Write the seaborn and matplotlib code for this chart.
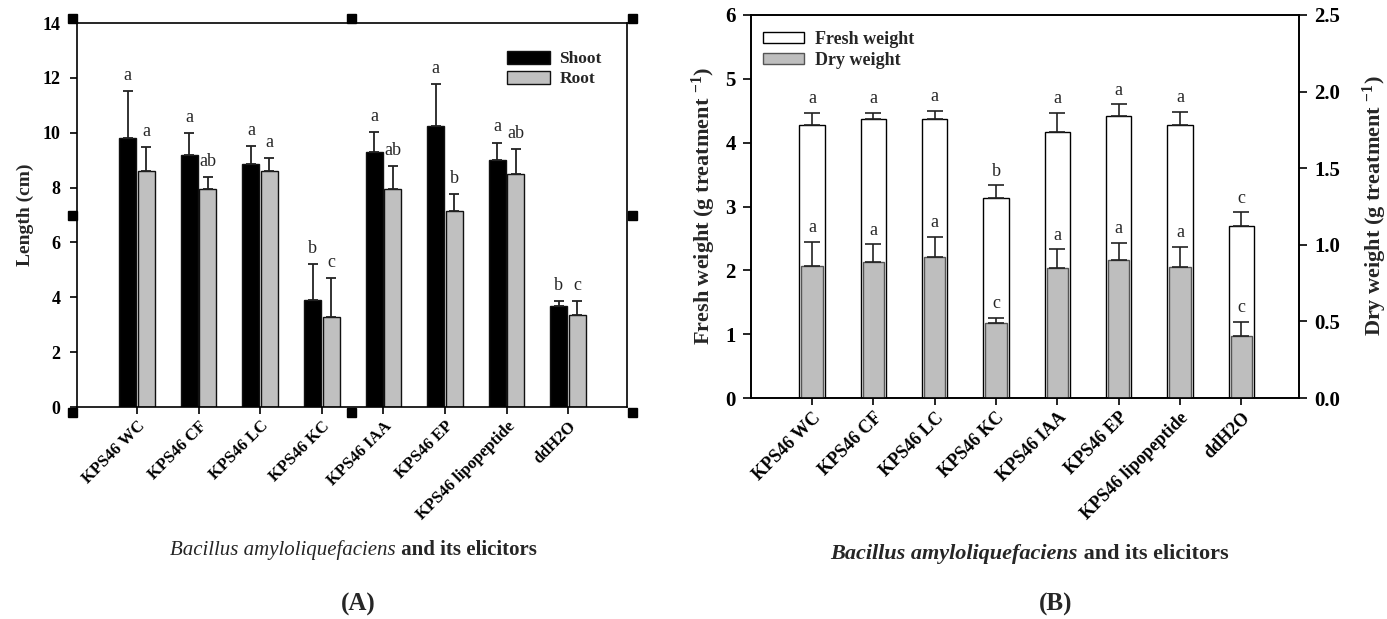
import numpy as np
import pandas as pd
import matplotlib
matplotlib.use("Agg")
import matplotlib.pyplot as plt
import seaborn as sns
from matplotlib.patches import Rectangle
from matplotlib.ticker import FormatStrFormatter

# ---------------- data ----------------
treatments = ["KPS46 WC", "KPS46 CF", "KPS46 LC", "KPS46 KC",
              "KPS46 IAA", "KPS46 EP", "KPS46 lipopeptide", "ddH2O"]

shoot_len = [9.82, 9.19, 8.85, 3.91, 9.30, 10.26, 9.00, 3.69]
shoot_err = [1.70, 0.79, 0.66, 1.30, 0.71, 1.50, 0.64, 0.16]
root_len = [8.61, 7.94, 8.61, 3.29, 7.94, 7.15, 8.51, 3.35]
root_err = [0.87, 0.43, 0.46, 1.42, 0.85, 0.62, 0.88, 0.50]
shoot_letters = ["a", "a", "a", "b", "a", "a", "a", "b"]
root_letters = ["a", "ab", "a", "c", "ab", "b", "ab", "c"]

fresh_wt = [4.27, 4.37, 4.37, 3.14, 4.16, 4.42, 4.27, 2.70]
fresh_err = [0.20, 0.10, 0.13, 0.19, 0.31, 0.18, 0.21, 0.21]
dry_wt = [0.864, 0.888, 0.918, 0.492, 0.847, 0.899, 0.857, 0.407]
dry_err = [0.156, 0.115, 0.133, 0.032, 0.124, 0.115, 0.129, 0.089]
fresh_letters = ["a", "a", "a", "b", "a", "a", "a", "c"]
dry_letters = ["a", "a", "a", "c", "a", "a", "a", "c"]

length_ticks = [0, 2, 4, 6, 8, 10, 12, 14]
fresh_ticks = [0, 1, 2, 3, 4, 5, 6]
dry_ticks = [0.0, 0.5, 1.0, 1.5, 2.0, 2.5]

# ---------------- style ----------------
sns.set_style("ticks")
plt.rcParams['font.family'] = ['Liberation Serif', 'DejaVu Serif']
plt.rcParams['mathtext.fontset'] = 'custom'
plt.rcParams['mathtext.rm'] = 'Liberation Serif'
plt.rcParams['mathtext.bf'] = 'Liberation Serif:bold'
plt.rcParams['mathtext.it'] = 'Liberation Serif:italic'
plt.rcParams['axes.edgecolor'] = 'black'
plt.rcParams['xtick.color'] = 'black'
plt.rcParams['ytick.color'] = 'black'

W, H = 1387, 619
fig = plt.figure(figsize=(W / 100, H / 100), dpi=100)


def fx(px):
    return px / W


def fy(py):
    return 1 - py / H


# ---------------- panel A ----------------
axA = fig.add_axes([fx(77), fy(407), fx(627) - fx(77), fy(23) - fy(407)])
dfA = pd.DataFrame({
    "treatment": treatments * 2,
    "length": shoot_len + root_len,
    "part": ["Shoot"] * len(treatments) + ["Root"] * len(treatments),
})
sns.barplot(data=dfA, x="treatment", y="length", hue="part", order=treatments,
            hue_order=["Shoot", "Root"],
            palette={"Shoot": "black", "Root": "#C0C0C0"}, saturation=1,
            width=0.6, gap=0.08, edgecolor="#111111", linewidth=1.0,
            errorbar=None, ax=axA)

for cont, errs, letters in zip(axA.containers, [shoot_err, root_err],
                               [shoot_letters, root_letters]):
    xs = [b.get_x() + b.get_width() / 2 for b in cont]
    hs = [b.get_height() for b in cont]
    axA.errorbar(xs, hs, yerr=[np.zeros(len(errs)), errs], fmt='none',
                 ecolor='#222222', elinewidth=1.3, capsize=3.4, capthick=1.3)
    for x, h, e, l in zip(xs, hs, errs, letters):
        axA.annotate(l, (x, h + e), xytext=(0, 8), textcoords='offset points',
                     ha='center', va='baseline', fontsize=13)

axA.set_xlim(-0.974, 7.955)
axA.set_ylim(0, 14)
axA.set_yticks(length_ticks)
axA.set_xlabel("")
axA.set_ylabel("")
axA.set_xticks(range(len(treatments)))
axA.set_xticklabels(treatments, rotation=45, ha='right', rotation_mode='anchor',
                    fontsize=12, fontweight='bold')
for lbl in axA.get_yticklabels():
    lbl.set_fontweight('bold')
    lbl.set_fontsize(13)
axA.tick_params(axis='both', direction='out', length=5, width=1.2)
axA.tick_params(axis='y', pad=7)
axA.tick_params(axis='x', pad=3)
for sp in axA.spines.values():
    sp.set_linewidth(1.2)
    sp.set_visible(True)

handles, labels = axA.get_legend_handles_labels()
axA.legend(handles, labels, loc='upper left', bbox_to_anchor=(0.782, 0.927),
           frameon=False, prop={'weight': 'bold', 'size': 12.5},
           handlelength=2.47, handleheight=0.75, handletextpad=0.55,
           labelspacing=0.2, borderpad=0, borderaxespad=0)

# ---------------- panel B ----------------
axB = fig.add_axes([fx(751), fy(398), fx(1299) - fx(751), fy(15) - fy(398)])
dfB = pd.DataFrame({"treatment": treatments, "fresh": fresh_wt, "dry": dry_wt})
sns.barplot(data=dfB, x="treatment", y="fresh", order=treatments, color="white",
            saturation=1, width=0.41, edgecolor="black", linewidth=1.0,
            errorbar=None, ax=axB, label="Fresh weight")
axB2 = axB.twinx()
sns.barplot(data=dfB, x="treatment", y="dry", order=treatments, color="#BEBEBE",
            saturation=1, width=0.345, edgecolor="#555555", linewidth=1.0,
            errorbar=None, ax=axB2, label="Dry weight")
for a in (axB, axB2):
    if a.get_legend() is not None:
        a.get_legend().remove()

for a, cont, errs, letters in [(axB, axB.containers[0], fresh_err, fresh_letters),
                               (axB2, axB2.containers[0], dry_err, dry_letters)]:
    xs = [b.get_x() + b.get_width() / 2 for b in cont]
    hs = [b.get_height() for b in cont]
    a.errorbar(xs, hs, yerr=[np.zeros(len(errs)), errs], fmt='none',
               ecolor='#222222', elinewidth=1.2, capsize=5.6, capthick=1.2)
    for x, h, e, l in zip(xs, hs, errs, letters):
        a.annotate(l, (x, h + e), xytext=(0, 7), textcoords='offset points',
                   ha='center', va='baseline', fontsize=13)

axB.set_ylim(0, 6)
axB.set_yticks(fresh_ticks)
axB2.set_ylim(0, 2.5)
axB2.set_yticks(dry_ticks)
axB2.yaxis.set_major_formatter(FormatStrFormatter('%.1f'))
for a in (axB, axB2):
    a.set_xlabel("")
    a.set_ylabel("")
axB.set_xticks(range(len(treatments)))
axB.set_xticklabels(treatments, rotation=45, ha='right', rotation_mode='anchor',
                    fontsize=13, fontweight='bold')
axB.set_xlim(-0.995, 7.94)
for a in (axB, axB2):
    for lbl in a.get_yticklabels():
        lbl.set_fontweight('bold')
        lbl.set_fontsize(15)
    a.tick_params(axis='both', direction='out', length=6, width=1.2)
    a.tick_params(axis='y', pad=5)
    for sp in a.spines.values():
        sp.set_linewidth(1.2)
        sp.set_visible(True)
axB.tick_params(axis='x', length=5, pad=3)

axB2.legend([axB.containers[0], axB2.containers[0]], ["Fresh weight", "Dry weight"],
            loc='upper left', bbox_to_anchor=(0.022, 0.958), frameon=False,
            prop={'weight': 'bold', 'size': 13}, handlelength=2.28,
            handleheight=0.55, handletextpad=0.6, labelspacing=0.22,
            borderpad=0, borderaxespad=0)

# ---------------- figure texts ----------------
fig.text(fx(25), fy(215), "Length (cm)", rotation=90, ha='center', va='center',
         fontsize=14, fontweight='bold')
fig.text(fx(704), fy(206), r"Fresh weight (g treatment $^{\mathbf{-1}}$)",
         rotation=90, ha='center', va='center', fontsize=16, fontweight='bold')
fig.text(fx(1375), fy(206), r"Dry weight (g treatment $^{\mathbf{-1}}$)",
         rotation=90, ha='center', va='center', fontsize=16, fontweight='bold')

fig.text(fx(396), fy(555), "Bacillus amyloliquefaciens", ha='right', va='baseline',
         style='italic', fontsize=15)
fig.text(fx(396), fy(555), " and its elicitors", ha='left', va='baseline',
         fontweight='bold', fontsize=15)
fig.text(fx(1078), fy(559), "Bacillus amyloliquefaciens", ha='right', va='baseline',
         style='italic', fontweight='bold', fontsize=16)
fig.text(fx(1078), fy(559), " and its elicitors", ha='left', va='baseline',
         fontweight='bold', fontsize=16)

fig.text(fx(358), fy(604), "(A)", ha='center', va='center', fontsize=18,
         fontweight='bold')
fig.text(fx(1056), fy(604), "(B)", ha='center', va='center', fontsize=18,
         fontweight='bold')

# selection handles around panel A (as in the screenshot)
handle_pts = [(72, 18.5), (351, 18.5), (632, 18.5), (72, 215), (632, 215),
              (72, 412), (351, 412), (632, 412)]
for cx, cy in handle_pts:
    fig.add_artist(Rectangle((fx(cx - 4.5), fy(cy + 4.5)), 9 / W, 9 / H,
                             transform=fig.transFigure, color='black', zorder=10))

fig.savefig("out.png", dpi=100)
